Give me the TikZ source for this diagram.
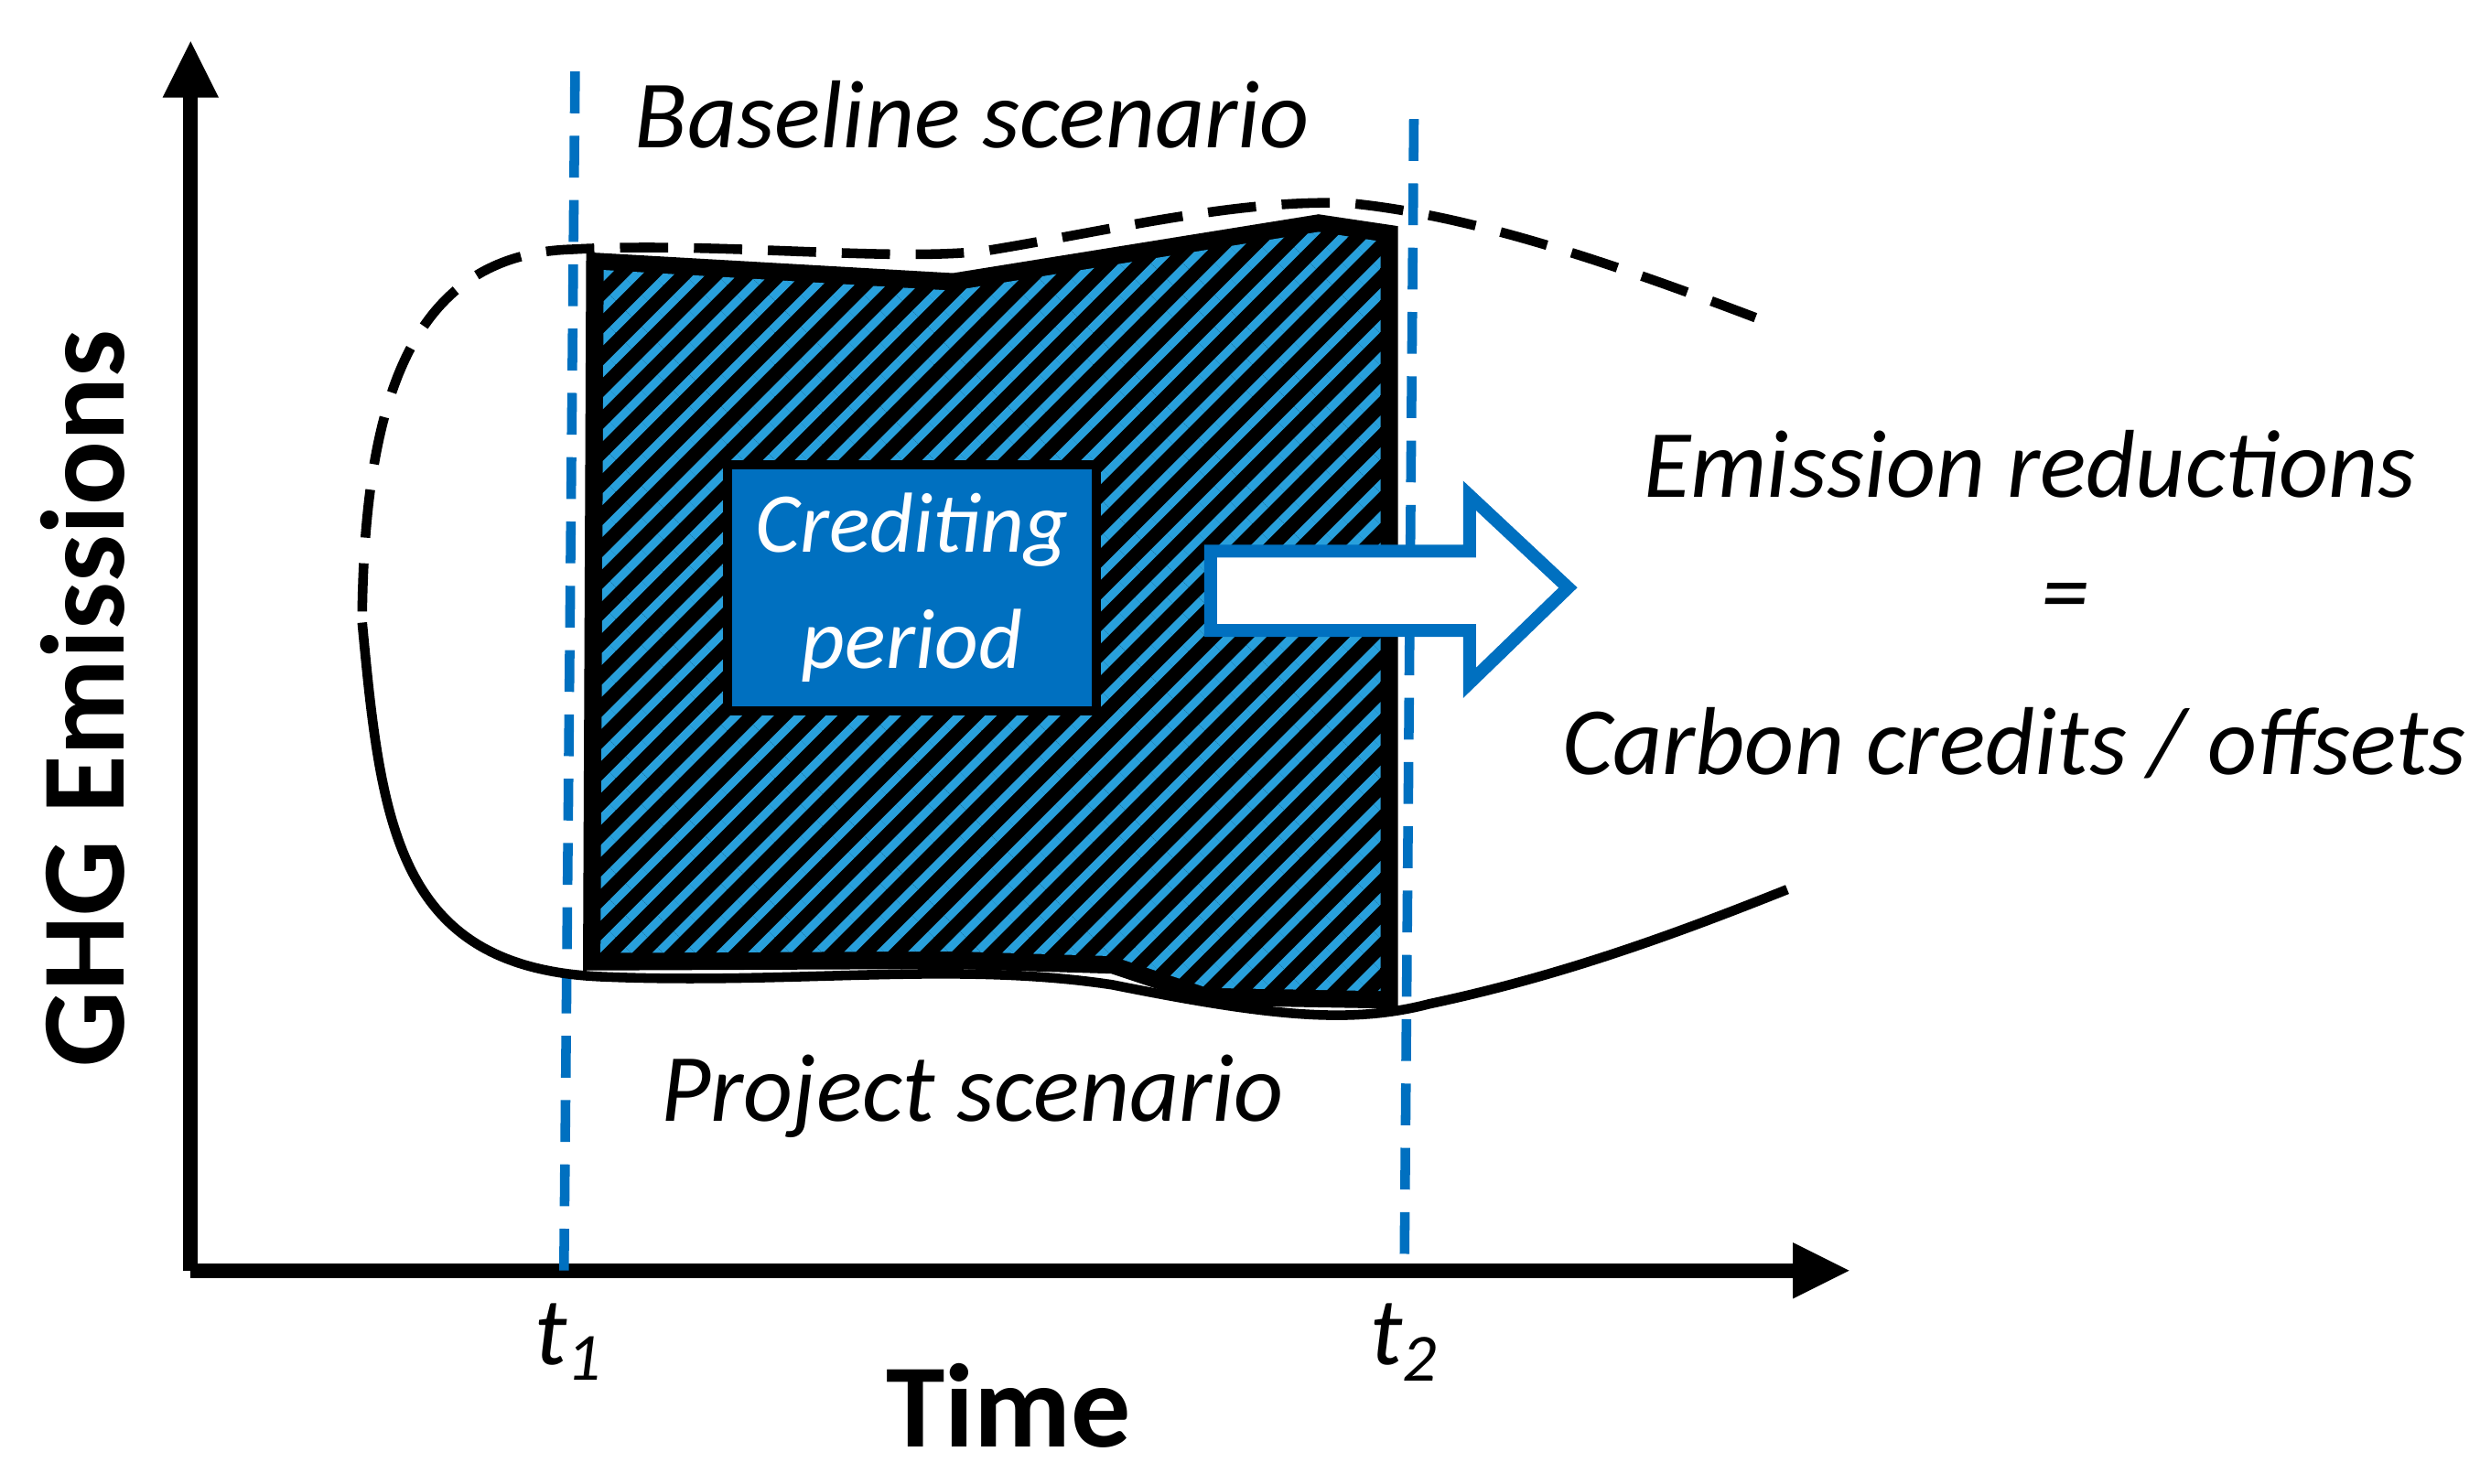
\documentclass[tikz,border=0pt]{standalone}
\usepackage{fontspec}
\setmainfont{Carlito}
\usepackage{xcolor}
\usetikzlibrary{arrows.meta, patterns.meta}
\definecolor{CreditBlue}{RGB}{0,112,192}
\definecolor{StripeBlue}{RGB}{40,160,220}

\tikzset{
  lbl/.style={font=\itshape\fontsize{30}{34}\selectfont},
  bigbold/.style={font=\bfseries\fontsize{37}{40}\selectfont},
  tline/.style={CreditBlue, line width=3pt, dash pattern=on 13pt off 7pt}
}

\begin{document}
\begin{tikzpicture}[x=0.01736cm, y=-0.01736cm, line width=3pt]
		\useasboundingbox (0,0) rectangle (1568,934);
		
		% axes
		\coordinate (o) at (120,800);
		\coordinate (ytop) at (120,25);
		\coordinate (xend) at (1165,800);
		\draw [line width=4.5pt, -{Triangle[length=18pt,width=16pt]}] (o) -- (ytop);
		\draw [line width=4.5pt, -{Triangle[length=18pt,width=16pt]}] (o) -- (xend);
		
		% hatched region
		\filldraw [fill=black, line width=3pt] (372,162) -- (600,175) -- (830,138) -- (877,145) -- (877,632) -- (760,630) -- (700,610) -- (600,607) -- (370,608) -- cycle;
		\fill [pattern={Lines[angle=45, distance=7pt, line width=2.6pt]}, pattern color=StripeBlue] (380,170) -- (600,183) -- (830,146) -- (869,152) -- (869,624) -- (760,622) -- (700,602) -- (600,599) -- (378,600) -- cycle;
		
		% time markers
		\coordinate (t1top) at (362,45);
		\coordinate (t1bot) at (355,800);
		\coordinate (t2top) at (890,75);
		\coordinate (t2bot) at (884,800);
		\draw [tline] (t1top) -- (t1bot);
		\draw [tline] (t2top) -- (t2bot);
		
		% baseline and project curves
		\draw [dash pattern=on 15pt off 8pt] (228,385) .. controls (230,250) and (260,160) .. (360,157)
			.. controls (450,152) and (560,165) .. (620,158)
			.. controls (700,145) and (780,125) .. (850,128)
			.. controls (920,135) and (1000,160) .. (1105,200);
		\draw (228,392) .. controls (240,520) and (250,610) .. (380,615)
			.. controls (500,620) and (600,605) .. (700,620)
			.. controls (800,640) and (850,645) .. (900,632)
			.. controls (980,615) and (1050,590) .. (1125,560);
		
		% crediting box and arrow
		\node [fill=CreditBlue, draw=black, line width=3pt, minimum width=4.03cm, minimum height=2.69cm, text=white, font=\itshape\fontsize{26.5}{30}\selectfont, align=center] (credit) at (574,370) {Crediting\\[6pt]period};
		\draw [CreditBlue, fill=white, line width=4pt] (762,347) -- (925,347) -- (925,312) -- (987,370) -- (925,430) -- (925,397) -- (762,397) -- cycle;
		
		% labels
		\node [lbl] (base) at (612,72) {Baseline scenario};
		\node [lbl] (proj) at (612,690) {Project scenario};
		\node [lbl] (red) at (1278,292) {Emission reductions};
		\node [lbl] (eq) at (1300,380) {=};
		\node [lbl] (cc) at (1268,468) {Carbon credits / offsets};
		\node [lbl] (t1) at (358,845) {t\textsubscript{1}};
		\node [lbl] (t2) at (884,845) {t\textsubscript{2}};
		\node [bigbold] (time) at (635,885) {Time};
		\node [bigbold, rotate=90] (ghg) at (52,440) {GHG Emissions};
	\end{tikzpicture}
\end{document}
